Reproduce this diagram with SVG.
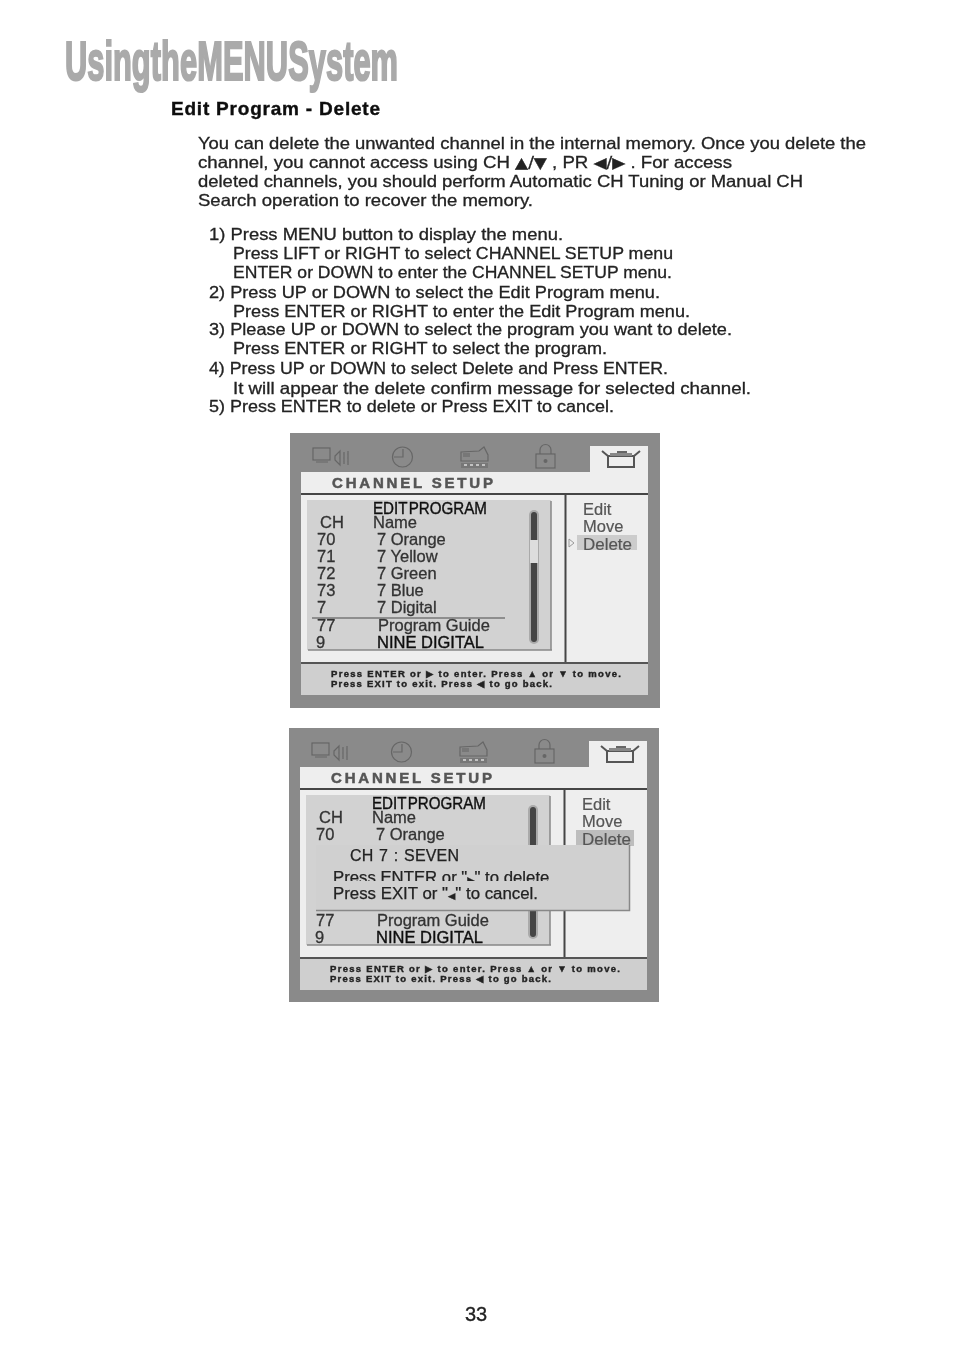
<svg xmlns="http://www.w3.org/2000/svg" width="954" height="1352" viewBox="0 0 954 1352">
<style>
text{font-family:"Liberation Sans","DejaVu Sans",sans-serif;fill:#222}
.b{font-size:16.5px;stroke:#222;stroke-width:.3px}
.h{font-size:19px;font-weight:bold;fill:#111;stroke:#111;stroke-width:.4px}
.t{font-size:16.5px;fill:#333;stroke:#333;stroke-width:.3px}
.k{font-size:16.5px;fill:#111;stroke:#111;stroke-width:.4px}
.m{font-size:16.5px;fill:#555;stroke:#555;stroke-width:.2px}
.f{font-size:9.5px;font-weight:bold;fill:#222;stroke:#222;stroke-width:.4px}
.s{font-size:15px;font-weight:bold;fill:#555;stroke:#555;stroke-width:.5px}
.g{font-family:"DejaVu Sans",sans-serif;font-size:15px}
.i{fill:none;stroke:#666;stroke-width:1.200}
.d{font-size:16px;fill:#222;stroke:#222;stroke-width:.25px}
</style>
<defs>
<filter id="soft" x="0" y="0" width="100%" height="100%"><feGaussianBlur stdDeviation="0.4"/></filter>
<g id="icons">
<rect class="i" x="313" y="448" width="17" height="12"/><path class="i" d="M316 462h12M335 456l5-5v14l-5-5zM344 452v12M348 451v14"/>
<circle class="i" cx="402.500" cy="457" r="10"/><path class="i" d="M403 449v8h-9"/>
<path class="i" d="M461 452l18-1 5-4 4 8v6h-27z"/><rect x="463" y="453" width="7" height="4" fill="#777"/>
<path d="M461 463h27v5h-27z" fill="#777"/><path d="M464 465h3M470 465h3M476 465h3M482 465h3" stroke="#ddd" stroke-width="1.500"/>
<rect class="i" x="536" y="454" width="19" height="14"/><path class="i" d="M540 454v-4a5 5 0 0 1 11 0v4"/><circle cx="545.500" cy="461" r="2" fill="#666"/>
<path d="M602 451l6 5h26l6-5M608 456v11h26v-11" fill="none" stroke="#555" stroke-width="2"/><rect x="610" y="453" width="22" height="3" fill="#888"/><rect x="617" y="451" width="10" height="2" fill="#666"/>
</g>
<g id="frame">
<rect x="590" y="446" width="58" height="26" fill="#eeeeee"/>
<rect x="301" y="472" width="347" height="21" fill="#eeeeee"/>
<rect x="301" y="493" width="347" height="2" fill="#444"/>
<rect x="301" y="495" width="347" height="167" fill="#eeeeee"/>
<rect x="564.500" y="494" width="2" height="168" fill="#444"/>
<rect x="301" y="662" width="347" height="2" fill="#555"/>
<rect x="301" y="664" width="347" height="31" fill="#cfcfcf"/>
<rect x="307" y="500" width="244" height="150" fill="#d2d2d2"/>
<path d="M308 650h244M551 501v149" stroke="#888" stroke-width="1.500" fill="none"/>
<text class="s" x="332" y="488" textLength="161">CHANNEL  SETUP</text>
<text class="k" x="373" y="514" textLength="114" lengthAdjust="spacingAndGlyphs" word-spacing="-3">EDIT PROGRAM</text>
<text class="t" x="320" y="527.500">CH</text><text class="t" x="373" y="527.500">Name</text>
<text class="t" x="317" y="544.500">70</text><text class="t" x="377" y="544.500">7 Orange</text>
<text class="t" x="316" y="647.500">9</text><text class="k" x="377" y="647.500">NINE DIGITAL</text>
<text class="t" x="317" y="630.500">77</text><text class="t" x="378" y="630.500">Program Guide</text>
<text class="m" x="583" y="514.500">Edit</text><text class="m" x="583" y="532">Move</text>
<text class="f" x="331" y="677" textLength="290">Press ENTER or ▶ to enter. Press ▲ or ▼ to move.</text>
<text class="f" x="331" y="687" textLength="221">Press EXIT to exit. Press ◀ to go back.</text>
</g>
</defs>
<rect width="954" height="1352" fill="#fff"/>
<g filter="url(#soft)">
<g id="title">
<text x="65" y="80" font-size="55" font-weight="bold" word-spacing="-15" style="fill:#aaa;stroke:#aaa;stroke-width:2.200px" textLength="333" lengthAdjust="spacingAndGlyphs">Using the MENU System</text>
<text class="h" x="171" y="115" textLength="209">Edit Program - Delete</text>
</g>
<g id="body">
<text class="b" x="198" y="149" textLength="668" lengthAdjust="spacingAndGlyphs">You can delete the unwanted channel in the internal memory. Once you delete the</text>
<text class="b" x="198" y="168" textLength="534" lengthAdjust="spacingAndGlyphs">channel, you cannot access using CH <tspan class="g">▲/▼</tspan> , PR <tspan class="g">◀/▶</tspan> . For access</text>
<text class="b" x="198" y="187" textLength="605" lengthAdjust="spacingAndGlyphs">deleted channels, you should perform Automatic CH Tuning or Manual CH</text>
<text class="b" x="198" y="206" textLength="335" lengthAdjust="spacingAndGlyphs">Search operation to recover the memory.</text>
<text class="b" x="209" y="240" textLength="354" lengthAdjust="spacingAndGlyphs">1) Press MENU button to display the menu.</text>
<text class="b" x="233" y="259" textLength="440" lengthAdjust="spacingAndGlyphs">Press LIFT or RIGHT to select CHANNEL SETUP menu</text>
<text class="b" x="233" y="278" textLength="439" lengthAdjust="spacingAndGlyphs">ENTER or DOWN to enter the CHANNEL SETUP menu.</text>
<text class="b" x="209" y="298" textLength="451" lengthAdjust="spacingAndGlyphs">2) Press UP or DOWN to select the Edit Program menu.</text>
<text class="b" x="233" y="317" textLength="457" lengthAdjust="spacingAndGlyphs">Press ENTER or RIGHT to enter the Edit Program menu.</text>
<text class="b" x="209" y="335" textLength="523" lengthAdjust="spacingAndGlyphs">3) Please UP or DOWN to select the program you want to delete.</text>
<text class="b" x="233" y="354" textLength="374" lengthAdjust="spacingAndGlyphs">Press ENTER or RIGHT to select the program.</text>
<text class="b" x="209" y="374" textLength="459" lengthAdjust="spacingAndGlyphs">4) Press UP or DOWN to select Delete and Press ENTER.</text>
<text class="b" x="233" y="394" textLength="518" lengthAdjust="spacingAndGlyphs">It will appear the delete confirm message for selected channel.</text>
<text class="b" x="209" y="412" textLength="405" lengthAdjust="spacingAndGlyphs">5) Press ENTER to delete or Press EXIT to cancel.</text>
</g>
<g id="menu1">
<rect x="290" y="433" width="370" height="275" fill="#8a8a8a"/>
<use href="#frame"/><use href="#icons"/>
<rect x="529" y="510" width="10" height="134" rx="5" fill="#aaa"/>
<rect x="531" y="512" width="6" height="130" rx="3" fill="#444"/>
<rect x="530" y="540" width="8" height="23" fill="#ddd"/>
<path d="M312 618h193" stroke="#777" stroke-width="1.500"/>
<text class="t" x="317" y="561.500">71</text><text class="t" x="377" y="561.500">7 Yellow</text>
<text class="t" x="317" y="578.500">72</text><text class="t" x="377" y="578.500">7 Green</text>
<text class="t" x="317" y="595.500">73</text><text class="t" x="377" y="595.500">7 Blue</text>
<text class="t" x="317" y="612.500">7</text><text class="t" x="377" y="612.500">7 Digital</text>
<rect x="577" y="535" width="60" height="15" fill="#cccccc"/>
<path d="M569 539l5 4-5 4z" fill="none" stroke="#999"/>
<text class="m" x="583" y="549.500" textLength="49" lengthAdjust="spacingAndGlyphs">Delete</text>
</g>
<g id="menu2" transform="translate(-1 295)">
<rect x="290" y="433" width="370" height="274" fill="#8a8a8a"/>
<use href="#frame"/><use href="#icons"/>
<rect x="529" y="510" width="10" height="134" rx="5" fill="#aaa"/>
<rect x="531" y="512" width="6" height="130" rx="3" fill="#444"/>
<rect x="577" y="535" width="58" height="16" fill="#bdbdbd"/>
<text class="m" x="583" y="549.500" textLength="49" lengthAdjust="spacingAndGlyphs">Delete</text>
</g>
<g id="dialog">
<rect x="316" y="845" width="313" height="65" fill="#d0d0d0"/>
<path d="M316 910.500h313.500V845" fill="none" stroke="#888" stroke-width="1.500"/>
<text class="d" x="350" y="861" textLength="109" word-spacing="1">CH 7 :  SEVEN</text>
<text class="d" x="333" y="883" textLength="221" lengthAdjust="spacingAndGlyphs">Press ENTER or "<tspan font-size="9">▶</tspan>" to delete.</text>
<rect x="320" y="881" width="300" height="4" fill="#d0d0d0"/>
<text class="d" x="333" y="899" textLength="205" lengthAdjust="spacingAndGlyphs">Press EXIT or "<tspan font-size="9">◀</tspan>" to cancel.</text>
</g>
<text id="page" x="476" y="1321" text-anchor="middle" font-size="20" style="fill:#222;stroke:#222;stroke-width:.3px">33</text>
</g>
</svg>
